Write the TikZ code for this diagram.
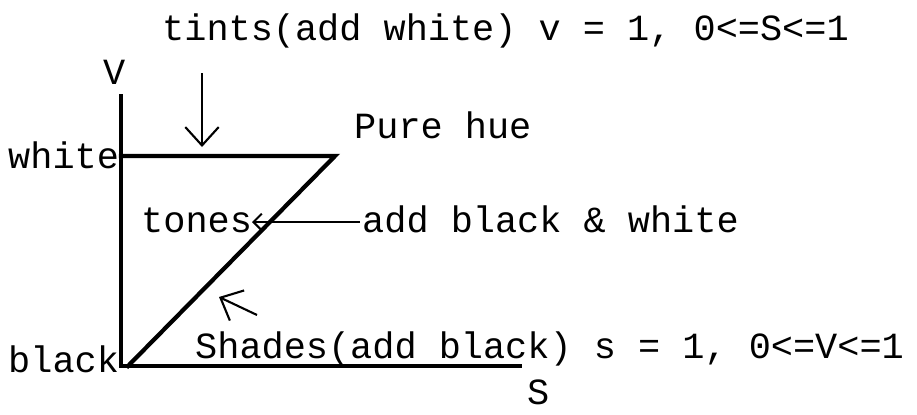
\documentclass[tikz,border=0pt]{standalone}
\usepackage{fontspec}
\setmonofont{Liberation Mono}
\usetikzlibrary{positioning,arrows.meta}

\begin{document}
\begin{tikzpicture}[
  x=0.03cm, y=-0.03cm,
  font=\ttfamily\fontsize{31.5}{36}\selectfont,
  lbl/.style={inner sep=0pt, anchor=base west},
  ax/.style={line width=3.6pt, line cap=rect},
  arr/.style={line width=1.8pt, -{Straight Barb[length=5.5mm,width=10mm,line width=1.8pt]}},
  sarr/.style={line width=1.8pt, -{Straight Barb[length=2.5mm,width=5mm,line width=1.8pt]}}
]
\useasboundingbox (0,0) rectangle (917,414);

% axes and corners
\coordinate (o)  at (121,366);
\coordinate (vt) at (121,96);
\coordinate (se) at (520,366);
\coordinate (w)  at (121,156);
\coordinate (ph) at (335,156);
\coordinate (b)  at (128,366);

% labels
\node[lbl] (tt) at (162,40)  {tints(add white) v = 1, 0<=S<=1};
\node[lbl] (vl) at (103,84)  {V};
\node[lbl] (sl) at (527,404) {S};
\node[lbl] (wl) at (8,168)   {white};
\node[lbl] (bl) at (8,372)   {black};
\node[lbl] (hl) at (354,138) {Pure hue};
\node[lbl] (tn) at (141,232) {tones};
\node[lbl] (ab) at (362,232) {add black \& white};
\node[lbl] (sh) at (195,358) {Shades(add black) s = 1, 0<=V<=1};

% hue triangle
\draw[ax] (vt) -- (o) -- (se);
\draw[ax] (w) -- (ph) -- (b);

% arrows
\coordinate (a1) at (202,73);
\coordinate (a2) at (202,147);
\draw[arr] (a1) -- (a2);
\coordinate (a3) at (360,222);
\coordinate (a4) at (252,222);
\draw[sarr] (a3) -- (a4);
\coordinate (a5) at (257,315);
\coordinate (a6) at (219,297);
\draw[arr] (a5) -- (a6);
\end{tikzpicture}
\end{document}
